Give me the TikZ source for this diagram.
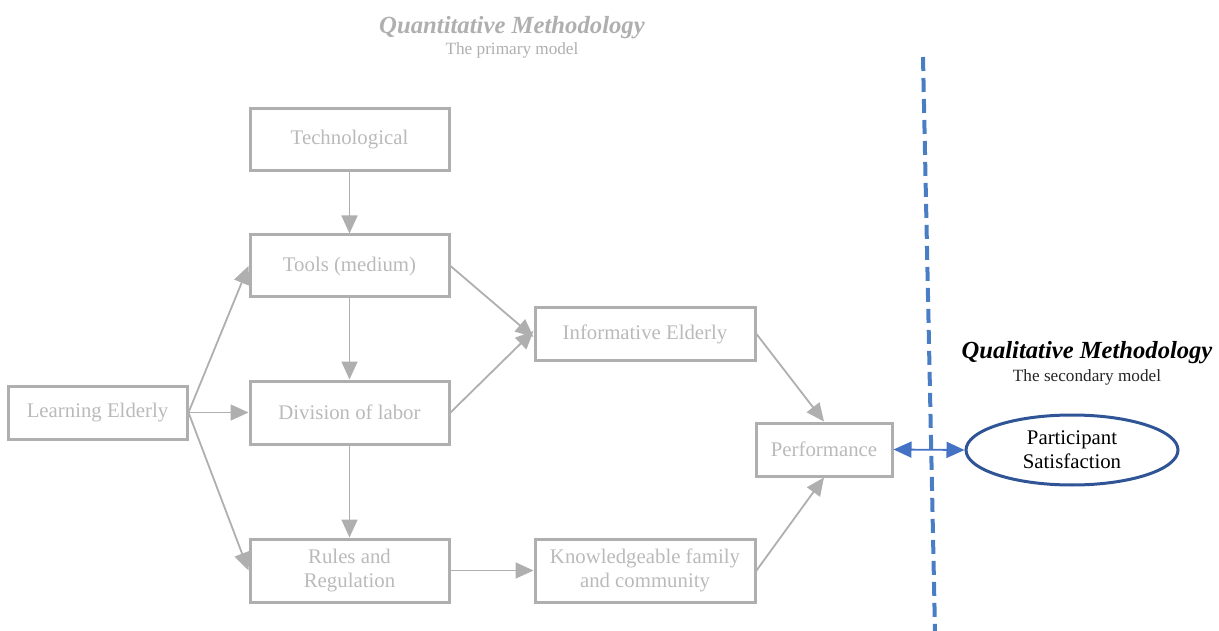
\documentclass[tikz,border=0pt]{standalone}
\usepackage{fontspec}
\setmainfont{Liberation Serif}
\usetikzlibrary{arrows.meta,shapes.geometric}
\definecolor{boxline}{HTML}{AFAFAF}
\definecolor{boxtext}{HTML}{BABABA}
\definecolor{titlegray}{HTML}{AFAFAF}
\definecolor{dashblue}{HTML}{4A7EC4}
\definecolor{ellblue}{HTML}{2F5597}
\definecolor{arrblue}{HTML}{4472C4}
\tikzset{
  gbox/.style={draw=boxline, line width=3pt, text=boxtext, align=center, inner sep=0pt,
     font=\fontsize{20.8}{24}\selectfont},
  garrow/.style={draw=boxline, line width=1.8pt, -{Triangle[length=18pt,width=16pt]}},
}
\begin{document}
\begin{tikzpicture}[x=1pt,y=-1pt]
\useasboundingbox (0,0) rectangle (1219,631);
% boxes
\node[gbox, minimum width=199pt, minimum height=62pt] (tech) at (349.5,140) {Technological};
\node[gbox, minimum width=199pt, minimum height=62pt] (tools) at (349.5,266) {Tools (medium)};
\node[gbox, minimum width=199pt, minimum height=63pt] (div) at (349.5,412.5) {Division of labor};
\node[gbox, minimum width=199pt, minimum height=63pt] (rules) at (349.5,570.5) {Rules and\\Regulation};
\node[gbox, minimum width=179pt, minimum height=53pt] (learn) at (97.5,412.5) {Learning Elderly};
\node[gbox, minimum width=220pt, minimum height=52pt] (info) at (645,334) {Informative Elderly};
\node[gbox, minimum width=220pt, minimum height=63pt] (know) at (645,570.5) {Knowledgeable family\\and community};
\node[gbox, minimum width=136pt, minimum height=53pt] (perf) at (824,449.5) {Performance};
\node[draw=ellblue, line width=3pt, ellipse, minimum width=212pt, minimum height=70pt, inner sep=0pt,
      align=center, font=\fontsize{20.8}{24}\selectfont] (sat) at (1072,450) {Participant\\Satisfaction};
% titles
\node[text=titlegray, font=\fontsize{24.7}{27}\selectfont\bfseries\itshape] (qt) at (512,28) {Quantitative Methodology};
\node[text=titlegray, font=\fontsize{17.2}{19}\selectfont] (qts) at (512,50) {The primary model};
\node[text=black, font=\fontsize{24.6}{27}\selectfont\bfseries\itshape] (ql) at (1087,353) {Qualitative Methodology};
\node[text=black!85, font=\fontsize{17.2}{19}\selectfont] (qls) at (1087,377) {The secondary model};
% dashed divider
\coordinate (dtop) at (923,57);
\coordinate (dbot) at (935,631);
\draw[dashblue, line width=4pt, dash pattern=on 14pt off 7pt] (dtop) -- (dbot);
% connectors
\draw[garrow] (tech) -- (tools);
\draw[garrow] (tools) -- (div);
\draw[garrow] (div) -- (rules);
\draw[garrow] (learn.east) -- (tools.west);
\draw[garrow] (learn.east) -- (div.west);
\draw[garrow] (learn.east) -- (rules.west);
\draw[garrow] (tools.east) -- ([yshift=-3pt]info.west);
\draw[garrow] (div.east) -- ([yshift=3pt]info.west);
\draw[garrow] (rules.east) -- (know.west);
\draw[garrow] (info.east) -- (perf.north);
\draw[garrow] (know.east) -- (perf.south);
\draw[arrblue, line width=1.8pt, {Triangle[length=18pt,width=16pt]}-{Triangle[length=18pt,width=16pt]}] (perf.east) -- (sat.west);
\end{tikzpicture}
\end{document}
